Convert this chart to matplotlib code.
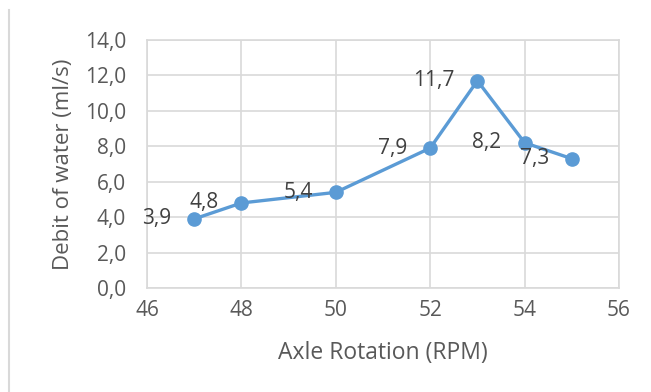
import matplotlib.pyplot as plt
from matplotlib.lines import Line2D

# datos
rpm = [47, 48, 50, 52, 53, 54, 55]
debit = [3.9, 4.8, 5.4, 7.9, 11.7, 8.2, 7.3]
x_ticks = [46, 48, 50, 52, 54, 56]
y_ticks = [0, 2, 4, 6, 8, 10, 12, 14]

plt.rcParams['font.family'] = ['Open Sans', 'DejaVu Sans']

fig = plt.figure(figsize=(6.51, 3.92), dpi=100)
ax = fig.add_axes([147 / 651, 1 - 288 / 392, (619 - 147) / 651, (288 - 40) / 392])

grid_color = '#D9D9D9'
text_color = '#595959'

ax.plot(rpm, debit, color='#5B9BD5', linewidth=2.4, marker='o',
        markersize=9.5, zorder=3)

# etiquetas de datos a la izquierda de cada punto
for x, y in zip(rpm, debit):
    ax.annotate(f"{y:.1f}".replace('.', ','), (x, y), xytext=(-23, 0),
                textcoords='offset pixels', ha='right', va='center',
                fontsize=15, color='#404040', zorder=4)

ax.set_xlim(46, 56)
ax.set_ylim(0, 14)
ax.set_xticks(x_ticks)
ax.set_yticks(y_ticks)
ax.set_xticklabels([str(v) for v in x_ticks])
ax.set_yticklabels([f"{v:.1f}".replace('.', ',') for v in y_ticks])
ax.tick_params(length=0, labelsize=15, colors=text_color)
ax.tick_params(axis='x', pad=9)
ax.tick_params(axis='y', pad=15)
ax.grid(True, color=grid_color, linewidth=1.2)
ax.set_axisbelow(True)
for s in ax.spines.values():
    s.set_color(grid_color)
    s.set_linewidth(1.2)

ax.set_xlabel('Axle Rotation (RPM)', fontsize=16.5, color=text_color, labelpad=14)
ax.set_ylabel('Debit of water (ml/s)', fontsize=16, color=text_color, labelpad=8)

# borde del gráfico (solo se ve la parte izquierda)
fig.add_artist(Line2D([9 / 651, 9 / 651], [0, 1 - 10 / 392],
                      transform=fig.transFigure, color=grid_color, linewidth=1.5))

fig.savefig('out.png', dpi=100, facecolor='white')
